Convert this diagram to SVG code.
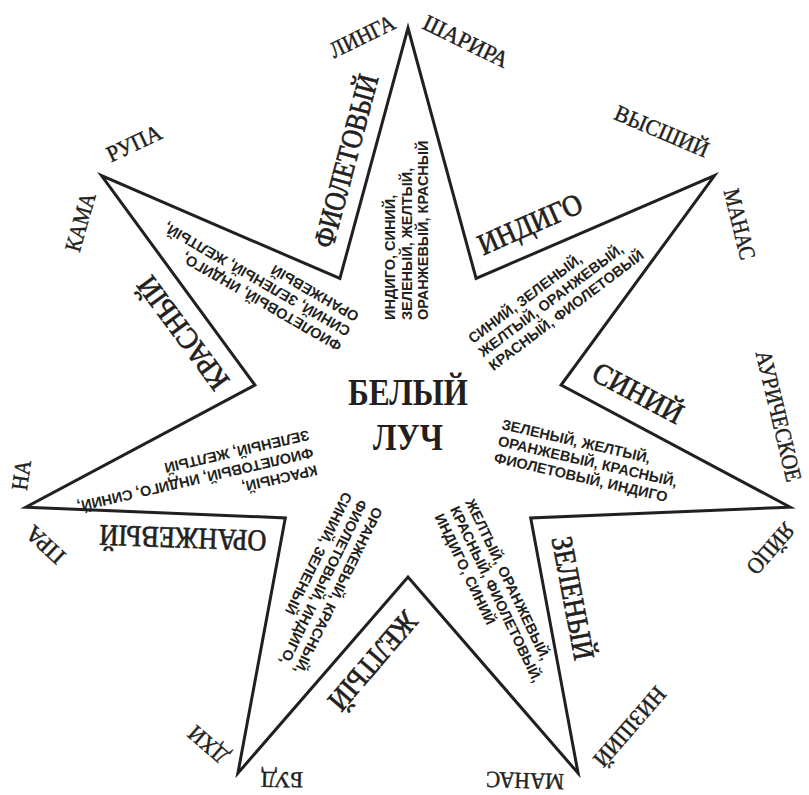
<svg xmlns="http://www.w3.org/2000/svg" width="809" height="795" viewBox="0 0 809 795">
<style>
.st{fill:none;stroke:#231f20;stroke-width:3;stroke-linejoin:miter;stroke-miterlimit:10}
.cn{font-family:"Liberation Serif","Times New Roman",serif;font-size:30px;fill:#231f20;stroke:#231f20;stroke-width:0.7;text-anchor:middle}
.ap{font-family:"Liberation Serif","Times New Roman",serif;font-size:23px;fill:#231f20;stroke:#231f20;stroke-width:0.45;text-anchor:middle}
.ls{font-family:"Liberation Sans",Arial,sans-serif;font-weight:bold;font-size:14.5px;fill:#231f20}
.ct{font-family:"Liberation Serif","Times New Roman",serif;font-weight:bold;font-size:38px;fill:#231f20;text-anchor:middle}
</style>
<rect width="809" height="795" fill="#fff"/>
<g id="star">
<polygon class="st" points="408,28 476.1,278.5 714.5,175.6 561.1,385.1 790.2,507.2 530.7,517.9 578.1,773.2 408,577 237.9,773.2 285.3,517.9 25.8,507.2 254.9,385.1 101.5,175.6 339.9,278.5"/>
</g>
<g id="center">
<text class="ct" x="408" y="405" textLength="120" lengthAdjust="spacingAndGlyphs">БЕЛЫЙ</text>
<text class="ct" x="408" y="450" textLength="70" lengthAdjust="spacingAndGlyphs">ЛУЧ</text>
</g>
<g id="arm-violet">
<text class="cn" transform="translate(346 161) rotate(-75.07)" x="0" y="10" textLength="178" lengthAdjust="spacingAndGlyphs">ФИОЛЕТОВЫЙ</text>
<text class="ls" transform="translate(395 320) rotate(-90)"><tspan x="0" y="0">ИНДИГО, СИНИЙ,</tspan><tspan x="0" y="16.5">ЗЕЛЕНЫЙ, ЖЕЛТЫЙ,</tspan><tspan x="0" y="33">ОРАНЖЕВЫЙ, КРАСНЫЙ</tspan></text>
</g>
<g id="arm-indigo">
<text class="cn" transform="translate(530 224) rotate(-23.64)" x="0" y="10" textLength="111" lengthAdjust="spacingAndGlyphs">ИНДИГО</text>
<text class="ls" transform="translate(473 344) rotate(-37)"><tspan x="0" y="0">СИНИЙ, ЗЕЛЕНЫЙ,</tspan><tspan x="0" y="17">ЖЕЛТЫЙ, ОРАНЖЕВЫЙ,</tspan><tspan x="0" y="34">КРАСНЫЙ, ФИОЛЕТОВЫЙ</tspan></text>
</g>
<g id="arm-blue">
<text class="cn" transform="translate(638 393) rotate(27.79)" x="0" y="10" textLength="98" lengthAdjust="spacingAndGlyphs">СИНИЙ</text>
<text class="ls" transform="translate(501 429) rotate(13)"><tspan x="0" y="0">ЗЕЛЕНЫЙ, ЖЕЛТЫЙ,</tspan><tspan x="0" y="17">ОРАНЖЕВЫЙ, КРАСНЫЙ,</tspan><tspan x="0" y="34">ФИОЛЕТОВЫЙ, ИНДИГО</tspan></text>
</g>
<g id="arm-green">
<text class="cn" transform="translate(573 598) rotate(79.22)" x="0" y="10" textLength="125" lengthAdjust="spacingAndGlyphs">ЗЕЛЕНЫЙ</text>
<text class="ls" transform="translate(465 502) rotate(64.3)"><tspan x="0" y="0">ЖЕЛТЫЙ, ОРАНЖЕВЫЙ,</tspan><tspan x="0" y="17">КРАСНЫЙ, ФИОЛЕТОВЫЙ,</tspan><tspan x="0" y="34">ИНДИГО, СИНИЙ</tspan></text>
</g>
<g id="arm-yellow">
<text class="cn" transform="translate(373 661) rotate(130.65)" x="0" y="10" textLength="120" lengthAdjust="spacingAndGlyphs">ЖЕЛТЫЙ</text>
<text class="ls" transform="translate(374 506) rotate(116)"><tspan x="0" y="0">ОРАНЖЕВЫЙ, КРАСНЫЙ,</tspan><tspan x="0" y="17">ФИОЛЕТОВЫЙ, ИНДИГО,</tspan><tspan x="0" y="34">СИНИЙ, ЗЕЛЕНЫЙ</tspan></text>
</g>
<g id="arm-orange">
<text class="cn" transform="translate(183 538) rotate(182.08)" x="0" y="10" textLength="167" lengthAdjust="spacingAndGlyphs">ОРАНЖЕВЫЙ</text>
<text class="ls" transform="translate(316 465) rotate(167)"><tspan x="0" y="0">КРАСНЫЙ,</tspan><tspan x="0" y="18">ФИОЛЕТОВЫЙ, ИНДИГО, СИНИЙ,</tspan><tspan x="0" y="36">ЗЕЛЕНЫЙ, ЖЕЛТЫЙ</tspan></text>
</g>
<g id="arm-red">
<text class="cn" transform="translate(183 333) rotate(233.51)" x="0" y="10" textLength="133" lengthAdjust="spacingAndGlyphs">КРАСНЫЙ</text>
<text class="ls" transform="translate(343 343) rotate(210)"><tspan x="0" y="0">ФИОЛЕТОВЫЙ, ИНДИГО,</tspan><tspan x="0" y="17">СИНИЙ, ЗЕЛЕНЫЙ, ЖЕЛТЫЙ,</tspan><tspan x="0" y="34">ОРАНЖЕВЫЙ</tspan></text>
</g>
<g id="labels">
<text class="ap" transform="translate(362 36) rotate(-26)" x="0" y="8" textLength="70" lengthAdjust="spacingAndGlyphs">ЛИНГА</text>
<text class="ap" transform="translate(466 41) rotate(26)" x="0" y="8" textLength="92" lengthAdjust="spacingAndGlyphs">ШАРИРА</text>
<text class="ap" transform="translate(662 131) rotate(23)" x="0" y="8" textLength="100" lengthAdjust="spacingAndGlyphs">ВЫСШИЙ</text>
<text class="ap" transform="translate(740 224) rotate(76)" x="0" y="8" textLength="72" lengthAdjust="spacingAndGlyphs">МАНАС</text>
<text class="ap" transform="translate(779 416) rotate(76.5)" x="0" y="8" textLength="134" lengthAdjust="spacingAndGlyphs">АУРИЧЕСКОЕ</text>
<text class="ap" transform="translate(771 549) rotate(131)" x="0" y="8" textLength="60" lengthAdjust="spacingAndGlyphs">ЯЙЦО</text>
<text class="ap" transform="translate(630 727) rotate(131)" x="0" y="8" textLength="98" lengthAdjust="spacingAndGlyphs">НИЗШИЙ</text>
<text class="ap" transform="translate(525 781) rotate(182)" x="0" y="8" textLength="78" lengthAdjust="spacingAndGlyphs">МАНАС</text>
<text class="ap" transform="translate(282 780) rotate(181)" x="0" y="8" textLength="42" lengthAdjust="spacingAndGlyphs">БУД</text>
<text class="ap" transform="translate(208 745) rotate(221)" x="0" y="8" textLength="45" lengthAdjust="spacingAndGlyphs">ДХИ</text>
<text class="ap" transform="translate(45 545) rotate(223)" x="0" y="8" textLength="45" lengthAdjust="spacingAndGlyphs">ПРА</text>
<text class="ap" transform="translate(21 475) rotate(-82)" x="0" y="8" textLength="30" lengthAdjust="spacingAndGlyphs">НА</text>
<text class="ap" transform="translate(80 222) rotate(-74)" x="0" y="8" textLength="60" lengthAdjust="spacingAndGlyphs">КАМА</text>
<text class="ap" transform="translate(134 143) rotate(-25)" x="0" y="8" textLength="58" lengthAdjust="spacingAndGlyphs">РУПА</text>
</g>
</svg>
